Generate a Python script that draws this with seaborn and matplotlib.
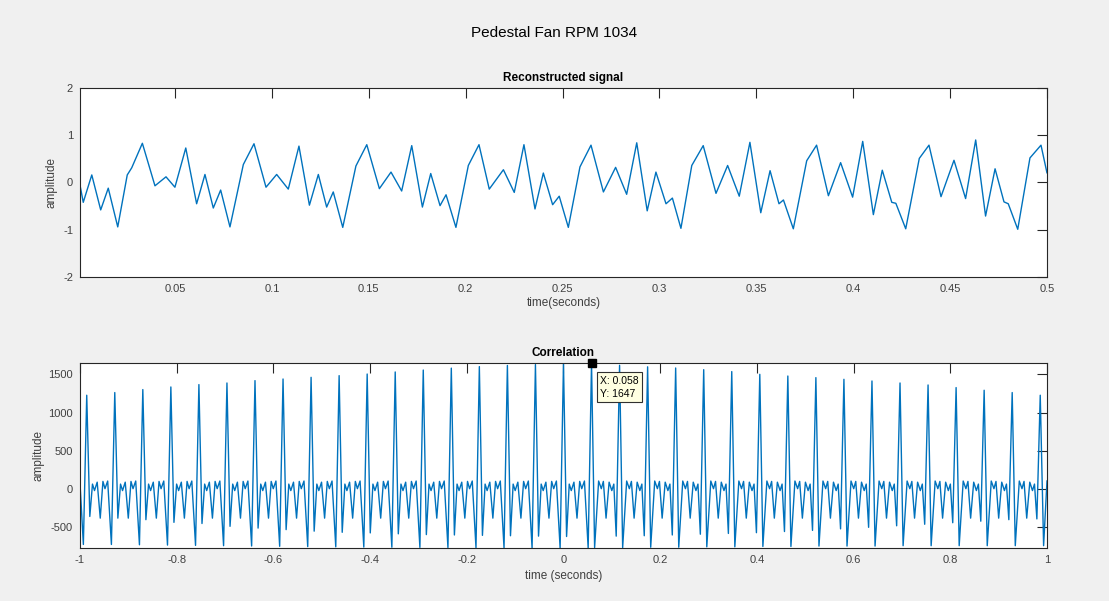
import numpy as np
import pandas as pd
import matplotlib.pyplot as plt
import seaborn as sns
from matplotlib.ticker import FuncFormatter

# ---- reconstructed signal: turning points ----
sig_t = [0.001, 0.0027, 0.0071, 0.0117, 0.0156, 0.0205, 0.0254, 0.0277,
         0.0332, 0.0397, 0.0454, 0.0500, 0.0556, 0.0612, 0.0655, 0.0698, 0.0736, 0.0784, 0.0853,
         0.0908, 0.0970, 0.1025, 0.1085, 0.1140, 0.1194, 0.1240, 0.1283, 0.1317, 0.1366, 0.1434,
         0.1490, 0.1555, 0.1615, 0.1670, 0.1722, 0.1777, 0.1820, 0.1868, 0.1899, 0.1950, 0.2014,
         0.2069, 0.2122, 0.2195, 0.2251, 0.2301, 0.2358, 0.2401, 0.2449, 0.2483, 0.2530, 0.2590,
         0.2647, 0.2711, 0.2774, 0.2831, 0.2883, 0.2937, 0.2982, 0.3034, 0.3067, 0.3111, 0.3167,
         0.3226, 0.3292, 0.3352, 0.3412, 0.3467, 0.3523, 0.3571, 0.3617, 0.3640, 0.3691, 0.3760,
         0.3811, 0.3872, 0.3935, 0.3997, 0.4049, 0.4104, 0.4150, 0.4199, 0.4220, 0.4271, 0.4341,
         0.4391, 0.4453, 0.4520, 0.4580, 0.4632, 0.4683, 0.4732, 0.4778, 0.4800, 0.4849, 0.4912,
         0.4969, 0.5000]
sig_amp = [-0.05, -0.42, 0.16, -0.58, -0.12, -0.94, 0.16, 0.31,
           0.83, -0.07, 0.12, -0.10, 0.73, -0.45, 0.17, -0.54, -0.16, -0.94, 0.38,
           0.82, -0.10, 0.17, -0.14, 0.77, -0.48, 0.17, -0.52, -0.20, -0.95, 0.35,
           0.80, -0.13, 0.22, -0.18, 0.78, -0.52, 0.19, -0.49, -0.26, -0.95, 0.36,
           0.80, -0.14, 0.27, -0.21, 0.80, -0.56, 0.20, -0.47, -0.29, -0.95, 0.33,
           0.79, -0.20, 0.32, -0.25, 0.84, -0.60, 0.22, -0.45, -0.33, -0.97, 0.36,
           0.78, -0.23, 0.36, -0.29, 0.85, -0.64, 0.25, -0.45, -0.37, -0.98, 0.46,
           0.79, -0.28, 0.42, -0.31, 0.87, -0.68, 0.26, -0.42, -0.44, -0.98, 0.51,
           0.79, -0.30, 0.47, -0.34, 0.90, -0.71, 0.29, -0.41, -0.45, -0.99, 0.52,
           0.79, 0.20]

# ---- correlation: main peaks every 0.058 s of lag ----
peak_lag = [-0.986, -0.928, -0.870, -0.812, -0.754, -0.696, -0.638, -0.580, -0.522,
            -0.464, -0.406, -0.348, -0.290, -0.232, -0.174, -0.116, -0.058, 0.0, 0.058,
            0.116, 0.174, 0.232, 0.290, 0.348, 0.406, 0.464, 0.522, 0.580, 0.638,
            0.696, 0.754, 0.812, 0.870, 0.928, 0.986]
peak_amp = [1226, 1261, 1300, 1334, 1365, 1386, 1417, 1438, 1460, 1482, 1503,
            1530, 1555, 1580, 1600, 1615, 1626, 1639, 1647,
            1617, 1597, 1582, 1560, 1535, 1499, 1477, 1456, 1434, 1412,
            1386, 1360, 1326, 1291, 1261, 1226]
# trough just after each peak / just before the next one (one per gap)
gap_post = [-358, -380, -400, -435, -450, -487, -510, -530, -550, -565, -573, -585,
            -595, -600, -605, -610, -615, -620,
            -765, -765, -760, -760, -755, -755, -750, -750, -745, -745, -745, -740,
            -740, -740, -740, -740]
gap_pre = [-724, -728, -732, -736, -740, -744, -748, -752, -755, -758, -760, -762,
           -764, -766, -768, -770, -770, -770,
           -615, -610, -600, -590, -580, -570, -555, -540, -520, -500, -480, -460,
           -440, -420, -400, -390]
# small ripples between peaks (position as share of the gap, amplitude)
ripple_pos = [0.205, 0.277, 0.373, 0.482, 0.578, 0.651, 0.747]
ripple_amp = [65, -20, 90, -380, 100, 5, 105]
corr_start, corr_end = 87, 109

tip_x, tip_y = 0.058, 1647

# build the correlation trace from the read values
period = 0.058
lag = [-1.0, peak_lag[0] - 0.12 * period]
amp = [corr_start, gap_pre[0]]
for i in range(len(peak_lag) - 1):
    p = peak_lag[i]
    lag.append(p)
    amp.append(peak_amp[i])
    if gap_post[i] > gap_pre[i]:
        pos, val = ripple_pos, ripple_amp
    else:
        pos, val = [1 - v for v in ripple_pos[::-1]], ripple_amp[::-1]
    lag.append(p + 0.11 * period)
    amp.append(gap_post[i])
    for f, v in zip(pos, val):
        lag.append(p + f * period)
        amp.append(v)
    lag.append(p + 0.88 * period)
    amp.append(gap_pre[i])
lag += [peak_lag[-1], peak_lag[-1] + 0.12 * period, 1.0]
amp += [peak_amp[-1], gap_post[-1], corr_end]

sig_df = pd.DataFrame({"time": sig_t, "amplitude": sig_amp})
corr_df = pd.DataFrame({"lag": lag, "amplitude": amp})

sns.set_style("white")
plt.rcParams["font.family"] = ["Liberation Sans", "DejaVu Sans"]
plt.rcParams["axes.unicode_minus"] = False

ink = "#262626"
line_c = "#0072BD"

fig = plt.figure(figsize=(11.09, 6.01), dpi=100, facecolor="#F0F0F0")
ax1 = fig.add_axes([0.0721, 0.5391, 0.8720, 0.3145])
ax2 = fig.add_axes([0.0721, 0.0882, 0.8720, 0.3078])

sns.lineplot(data=sig_df, x="time", y="amplitude", ax=ax1, color=line_c,
             linewidth=1.0, estimator=None, sort=False)
sns.lineplot(data=corr_df, x="lag", y="amplitude", ax=ax2, color=line_c,
             linewidth=1.0, estimator=None, sort=False)


def tick_fmt(v, _):
    v = round(v, 3)
    if abs(v) < 1e-9:
        v = 0.0
    return "%g" % v


fmt = FuncFormatter(tick_fmt)
for ax in (ax1, ax2):
    ax.set_facecolor("white")
    for s in ax.spines.values():
        s.set_color(ink)
        s.set_linewidth(0.8)
    ax.tick_params(direction="in", top=True, right=True, length=7, width=0.8,
                   colors=ink, labelsize=8, pad=5, labelcolor="#404040")
    ax.xaxis.set_major_formatter(fmt)
    ax.yaxis.set_major_formatter(fmt)

ax1.set_xlim(0.001, 0.5)
ax1.set_ylim(-2, 2)
ax1.set_xticks(np.arange(0.05, 0.501, 0.05))
ax1.set_yticks([-2, -1, 0, 1, 2])
ax1.set_title("Reconstructed signal", fontsize=8.5, fontweight="bold", color="black", pad=5)
ax1.set_xlabel("time(seconds)", fontsize=8.5, color="#404040", labelpad=2)
ax1.set_ylabel("amplitude", fontsize=8.5, color="#404040")
ax1.yaxis.set_label_coords(-0.0228, 0.5)

ax2.set_xlim(-1, 1)
ax2.set_ylim(-770, 1647)
ax2.set_xticks(np.arange(-1, 1.01, 0.2))
ax2.set_yticks([-500, 0, 500, 1000, 1500])
ax2.set_title("Correlation", fontsize=8.5, fontweight="bold", color="black", pad=5)
ax2.set_xlabel("time (seconds)", fontsize=8.5, color="#404040", labelpad=4)
ax2.set_ylabel("amplitude", fontsize=8.5, color="#404040")
ax2.yaxis.set_label_coords(-0.0362, 0.5)

# data tip like the MATLAB figure
ax2.plot([tip_x], [tip_y], marker="s", color="black", markersize=5.5,
         clip_on=False, zorder=5)
ax2.annotate("X: %g\nY: %d" % (tip_x, tip_y), xy=(tip_x, tip_y),
             xytext=(6, -9), textcoords="offset points", ha="left", va="top",
             fontsize=7.5, color="black", linespacing=1.4,
             bbox=dict(boxstyle="square,pad=0.3", fc="#FFFFE1", ec="#303030", lw=0.8),
             zorder=6)

fig.suptitle("Pedestal Fan RPM 1034", y=0.957, fontsize=11, color="black")

fig.savefig("out.png", dpi=100, facecolor=fig.get_facecolor())
